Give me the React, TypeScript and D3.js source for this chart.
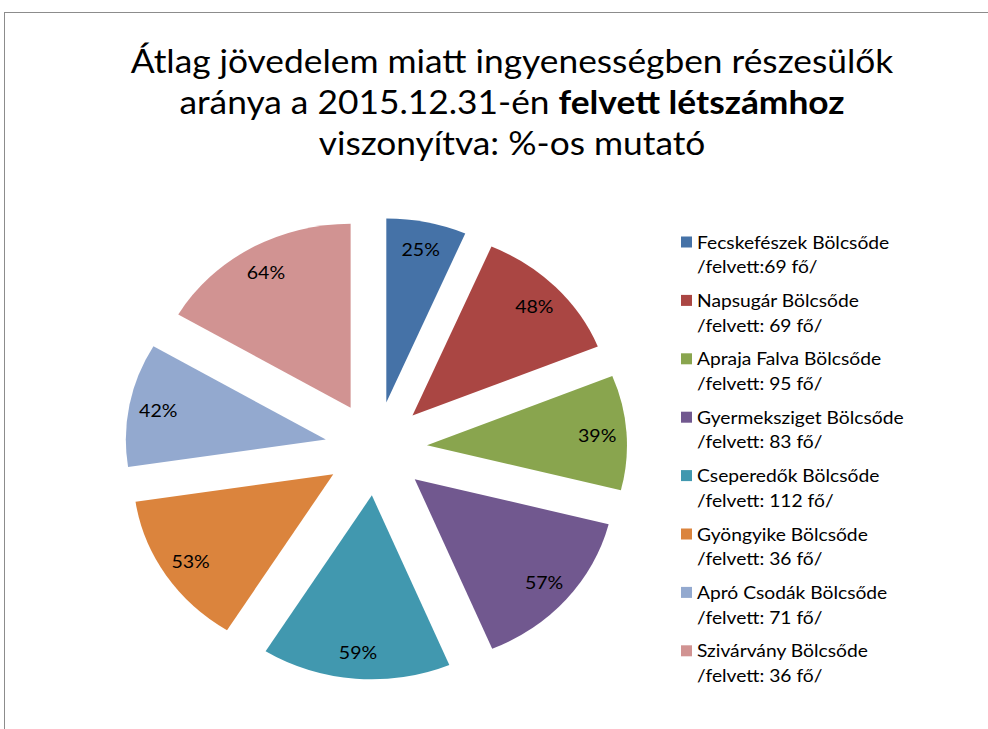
import React from "react";
import * as d3 from "d3";

const names = [
  "Fecskefészek Bölcsőde",
  "Napsugár Bölcsőde",
  "Apraja Falva Bölcsőde",
  "Gyermeksziget Bölcsőde",
  "Cseperedők Bölcsőde",
  "Gyöngyike Bölcsőde",
  "Apró Csodák Bölcsőde",
  "Szivárvány Bölcsőde",
];
const subLabels = [
  "/felvett:69 fő/",
  "/felvett: 69 fő/",
  "/felvett: 95 fő/",
  "/felvett: 83 fő/",
  "/felvett: 112 fő/",
  "/felvett: 36 fő/",
  "/felvett: 71 fő/",
  "/felvett: 36 fő/",
];
const values = [25, 48, 39, 57, 59, 53, 42, 64];
const colors = ["#4572A7", "#AA4643", "#89A54E", "#71588F", "#4198AF", "#DB843D", "#93A9CF", "#D19392"];

const W = 988;
const H = 729;
const FONT = "Lato, 'Open Sans', 'Liberation Sans', sans-serif";

export default function App() {
  const cx = 376;
  const cy = 448.5;
  const r = 184;
  const sx = 1.087;
  const explode = 47;
  const labelR = 157;

  const pie = d3.pie<number>().sort(null).value((d) => d);
  const arcs = pie(values);
  const arcGen = d3.arc<d3.PieArcDatum<number>>().innerRadius(0).outerRadius(r);

  const legendX = 681;
  const legendY0 = 242;
  const legendStep = 58.4;
  const lineGap = 24.5;
  const textX = 697;

  return (
    <svg
      width={W}
      height={H}
      style={{ position: "absolute", left: 0, top: 0, background: "#fff" }}
      fontFamily={FONT}
    >
      <rect x={0} y={0} width={W} height={H} fill="#fff" />
      <rect x={4.5} y={12.5} width={1100} height={900} fill="none" stroke="#8c8c8c" strokeWidth={1} />

      <g fill="#000" textAnchor="middle" fontSize={32.5} transform={`translate(512,0) scale(${sx},1)`}>
        <text x={0} y={73}>Átlag jövedelem miatt ingyenességben részesülők</text>
        <text x={0} y={114}>
          <tspan>aránya a 2015.12.31-én </tspan>
          <tspan fontWeight="bold">felvett létszámhoz</tspan>
        </text>
        <text x={0} y={155}>viszonyítva: %-os mutató</text>
      </g>

      <g transform={`translate(${cx},${cy}) scale(${sx},1)`}>
        {arcs.map((a, i) => {
          const mid = (a.startAngle + a.endAngle) / 2;
          const ox = explode * Math.sin(mid);
          const oy = -explode * Math.cos(mid);
          return (
            <path
              key={i}
              d={arcGen(a) || ""}
              transform={`translate(${ox},${oy})`}
              fill={colors[i]}
            />
          );
        })}
      </g>

      <g transform={`translate(${cx},${cy}) scale(${sx},1)`} fontSize={18} fill="#000" textAnchor="middle">
        {arcs.map((a, i) => {
          const mid = (a.startAngle + a.endAngle) / 2;
          const rr = explode + labelR;
          const x = rr * Math.sin(mid);
          const y = -rr * Math.cos(mid);
          return (
            <text key={i} x={x} y={y} dominantBaseline="central">
              {values[i]}%
            </text>
          );
        })}
      </g>

      <g fill="#000">
        {names.map((n, i) => {
          const y = legendY0 + i * legendStep;
          return (
            <g key={i}>
              <rect x={legendX} y={y - 5.5} width={11} height={11} fill={colors[i]} />
              <g transform={`translate(${textX},0) scale(${sx},1)`} fontSize={17.7}>
                <text x={0} y={y} dominantBaseline="central">{n}</text>
                <text x={0} y={y + lineGap} dominantBaseline="central">{subLabels[i]}</text>
              </g>
            </g>
          );
        })}
      </g>
    </svg>
  );
}
